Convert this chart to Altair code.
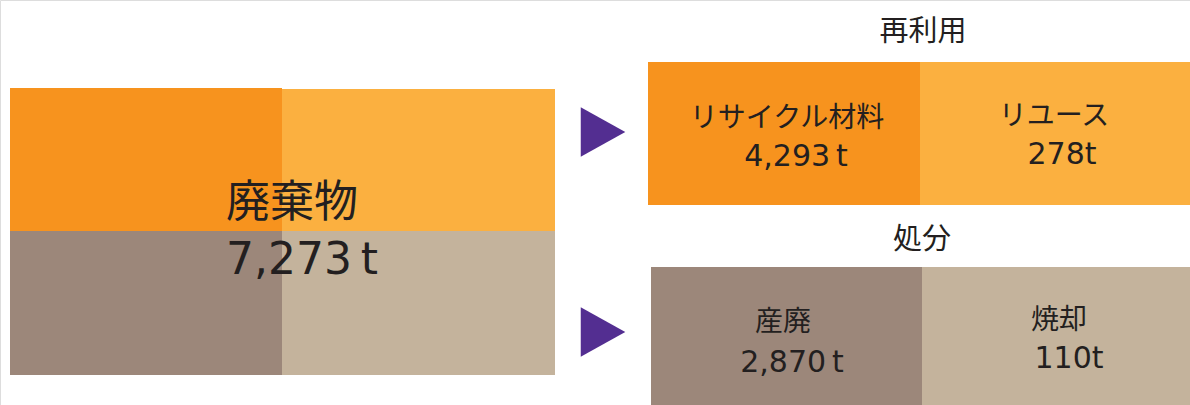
import altair as alt
import pandas as pd

# ---- data ----
total_name = "廃棄物"
total_label = "7,273\u2009t"
group_names = ["再利用", "処分"]
categories = ["リサイクル材料", "リユース", "産廃", "焼却"]
category_group = ["再利用", "再利用", "処分", "処分"]
value_labels = ["4,293\u2009t", "278t", "2,870\u2009t", "110t"]

# ---- layout / style (pixel coordinates of the 1190x405 canvas) ----
W, H = 1190, 405
ORANGE, LORANGE, BROWN, BEIGE = "#F7931E", "#FBB040", "#9C877A", "#C4B39C"
PURPLE, INK = "#532E91", "#231F20"
FONT = "Noto Sans CJK JP"
NUMFONT = "DejaVu Sans"

left_cells = pd.DataFrame({
    "x": [10, 282, 10, 282], "x2": [282, 555, 282, 555],
    "y": [88, 89, 231, 231], "y2": [231, 231, 375, 375],
    "c": [ORANGE, LORANGE, BROWN, BEIGE],
})
right_cells = pd.DataFrame({
    "x": [648, 920, 651, 922], "x2": [920, 1190, 922, 1190],
    "y": [62, 62, 267, 267], "y2": [205, 205, 405, 405],
    "c": [ORANGE, LORANGE, BROWN, BEIGE],
})
cells = pd.concat([left_cells, right_cells], ignore_index=True)

name_texts = pd.DataFrame({
    "t": [total_name] + group_names + categories,
    "x": [292, 923, 922, 787, 1054, 783, 1059],
    "y": [204, 32, 240, 119, 117, 323, 321],
    "s": [44, 29, 29, 28, 28, 28, 28],
})
num_texts = pd.DataFrame({
    "t": [total_label] + value_labels,
    "x": [302, 796, 1062, 792, 1069],
    "y": [261, 157, 155, 363, 359],
    "s": [44, 30, 30, 30, 30],
})

tri = pd.DataFrame({"g": group_names, "x": [603, 603], "y": [132, 332]})

xs = alt.Scale(domain=[0, W], range=[0, W])
ys = alt.Scale(domain=[0, H], range=[0, H])

rects = alt.Chart(cells).mark_rect().encode(
    x=alt.X("x:Q", scale=xs, axis=None),
    x2="x2:Q",
    y=alt.Y("y:Q", scale=ys, axis=None),
    y2="y2:Q",
    color=alt.Color("c:N", scale=None),
)

arrows = alt.Chart(tri).mark_point(
    shape="M -0.9 -1 L 0.9 0 L -0.9 1 Z", filled=True, opacity=1,
    color=PURPLE, strokeWidth=0,
).encode(
    x=alt.X("x:Q", scale=xs, axis=None),
    y=alt.Y("y:Q", scale=ys, axis=None),
    size=alt.value(2450),
)


def text_layer(df, font):
    return alt.Chart(df).mark_text(
        font=font, color=INK, align="center", baseline="middle",
    ).encode(
        x=alt.X("x:Q", scale=xs, axis=None),
        y=alt.Y("y:Q", scale=ys, axis=None),
        text="t:N",
        size=alt.Size("s:Q", scale=None),
    )


names = text_layer(name_texts, FONT)
nums = text_layer(num_texts, NUMFONT)

chart = alt.layer(rects, arrows, names, nums).properties(
    width=W, height=H, padding=0,
    autosize=alt.AutoSizeParams(type="none"),
).configure_view(stroke=None).configure(background="white")

chart.save("out.html", embed_options={"renderer": "svg", "actions": False})
